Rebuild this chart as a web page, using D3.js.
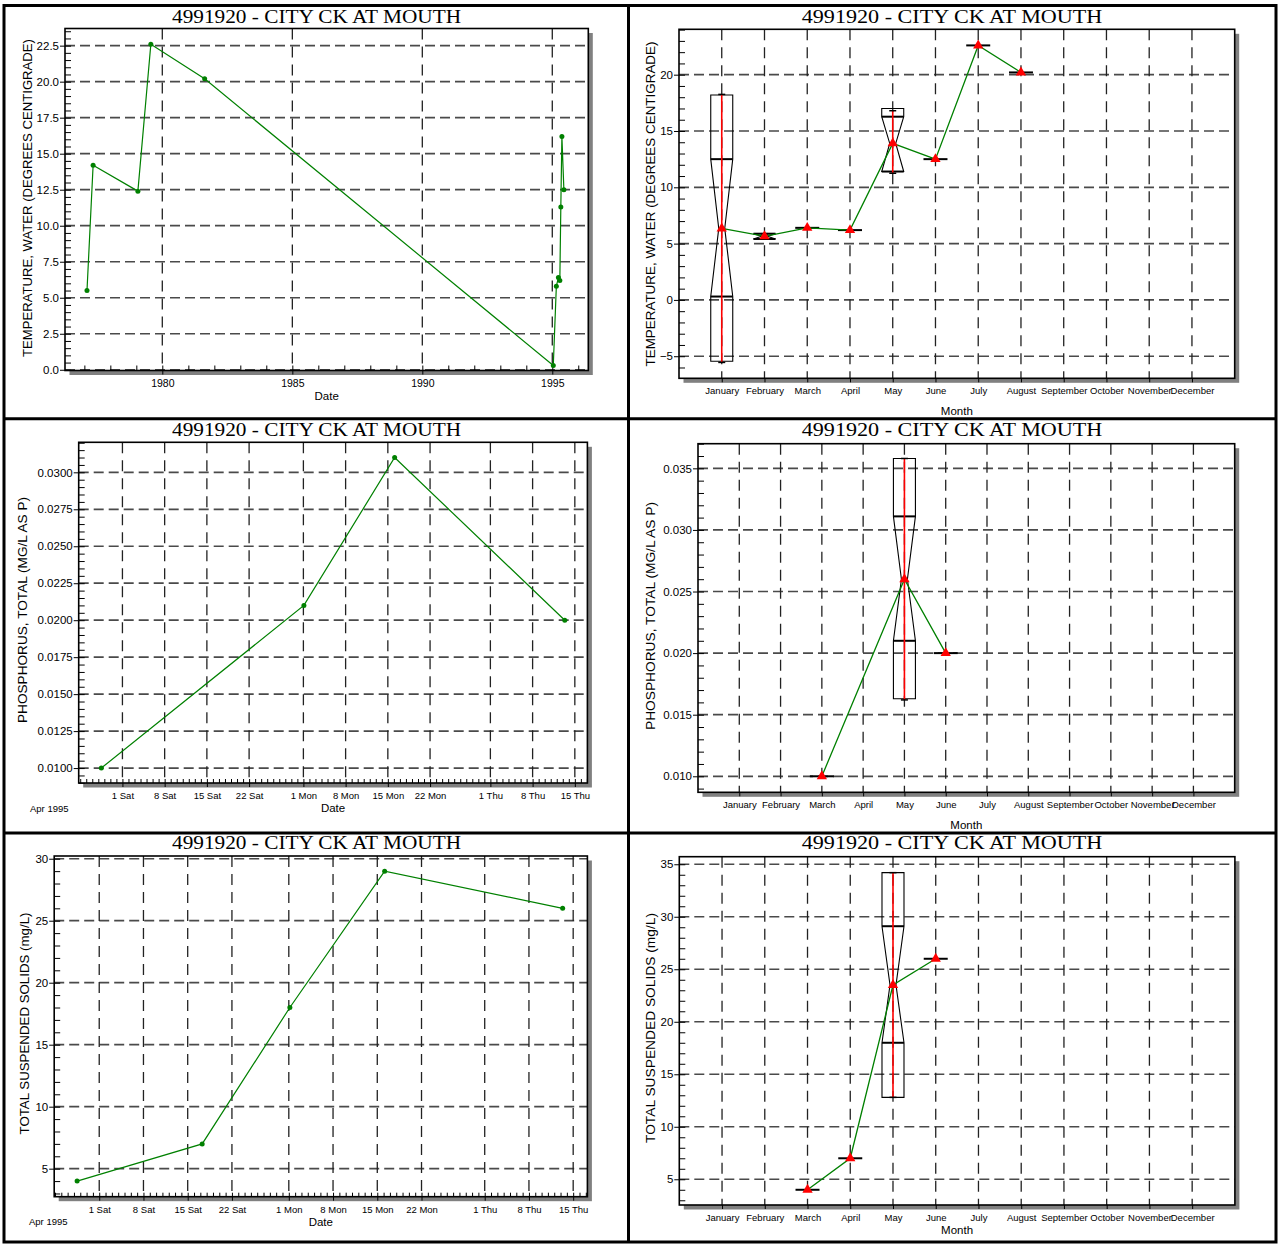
<!DOCTYPE html>
<html><head><meta charset="utf-8">
<script src="https://cdn.jsdelivr.net/npm/d3@7"></script>
<style>body{margin:0;background:#fff}svg{display:block}</style>
</head><body>
<svg id="c" width="1279" height="1245"></svg>
<script>
// ---------------- DATA ----------------
const stationTitle = "4991920 - CITY CK AT MOUTH";
const months = ["January","February","March","April","May","June","July","August","September","October","November","December"];

// Temperature time series
const tempDates = ["1977-02-07","1977-05-04","1979-01-23","1979-07-24","1981-08-18","1995-01-15","1995-02-27","1995-03-28","1995-04-17","1995-05-01","1995-05-16","1995-06-13"];
const tempValues = [5.5, 14.2, 12.4, 22.6, 20.2, 0.3, 5.8, 6.4, 6.2, 11.3, 16.2, 12.5];
const tempYTicks = [0, 2.5, 5, 7.5, 10, 12.5, 15, 17.5, 20, 22.5];
const tempYearTicks = [1980, 1985, 1990, 1995];

// Phosphorus time series
const phosDates = ["1995-03-28T12:00","1995-05-01T02:00","1995-05-16T03:00","1995-06-13T08:00"];
const phosValues = [0.010, 0.021, 0.031, 0.020];
const phosYTicks = [0.0100, 0.0125, 0.0150, 0.0175, 0.0200, 0.0225, 0.0250, 0.0275, 0.0300];

// TSS time series
const tssDates = ["1995-03-28T12:00","1995-04-17T07:00","1995-05-01T04:00","1995-05-16T04:00","1995-06-13T08:00"];
const tssValues = [4, 7, 18, 29, 26];
const tssYTicks = [5, 10, 15, 20, 25, 30];

// Date axis ticks (Apr-Jun 1995)
const dateTicks = ["1995-04-01","1995-04-08","1995-04-15","1995-04-22","1995-05-01","1995-05-08","1995-05-15","1995-05-22","1995-06-01","1995-06-08","1995-06-15"];

// Monthly summaries: temperature
const tempMonthMeans = [6.35, 5.65, 6.4, 6.2, 13.9, 12.5, 22.6, 20.2, null, null, null, null];
const tempBoxMonths = ["January", "February", "May"];
const tempBoxHigh = [18.2, 5.88, 17.0];
const tempBoxNotchHigh = [12.5, 5.88, 16.27];
const tempBoxMedian = [6.35, 5.65, 13.9];
const tempBoxNotchLow = [0.3, 5.41, 11.4];
const tempBoxLow = [-5.45, 5.41, 11.4];
const tempWhiskerTop = [18.25, 5.88, 16.8];
const tempWhiskerBottom = [-5.55, 5.41, 11.25];
const tempMonthYTicks = [-5, 0, 5, 10, 15, 20];

// Monthly summaries: phosphorus
const phosMonthMeans = [null, null, 0.010, null, 0.026, 0.020, null, null, null, null, null, null];
const phosBoxMonths = ["May"];
const phosBoxHigh = [0.0358];
const phosBoxNotchHigh = [0.0311];
const phosBoxMedian = [0.026];
const phosBoxNotchLow = [0.0210];
const phosBoxLow = [0.0163];
const phosWhiskerTop = [0.0358];
const phosWhiskerBottom = [0.0162];
const phosMonthYTicks = [0.010, 0.015, 0.020, 0.025, 0.030, 0.035];

// Monthly summaries: TSS
const tssMonthMeans = [null, null, 4, 7, 23.5, 26, null, null, null, null, null, null];
const tssBoxMonths = ["May"];
const tssBoxHigh = [34.2];
const tssBoxNotchHigh = [29.1];
const tssBoxMedian = [23.5];
const tssBoxNotchLow = [18.0];
const tssBoxLow = [12.8];
const tssWhiskerTop = [34.2];
const tssWhiskerBottom = [12.8];
const tssMonthYTicks = [5, 10, 15, 20, 25, 30, 35];

// ---------------- DRAWING ----------------
const svg = d3.select("#c");
const SANS = "'Liberation Sans', Arial, sans-serif";
const SERIF = "'Liberation Serif', 'Times New Roman', serif";
const pDay = d3.timeParse("%Y-%m-%d"), pDT = d3.timeParse("%Y-%m-%dT%H:%M");
const parse = s => s.length > 10 ? pDT(s) : pDay(s);

// outer table frame
svg.append("rect").attr("x", 4).attr("y", 5.5).attr("width", 1272).attr("height", 1236.5)
  .attr("fill", "none").attr("stroke", "#000").attr("stroke-width", 3);
svg.append("line").attr("x1", 628.5).attr("x2", 628.5).attr("y1", 5.5).attr("y2", 1242).attr("stroke", "#000").attr("stroke-width", 3);
[418.7, 833].forEach(yy => svg.append("line").attr("x1", 4).attr("x2", 1276).attr("y1", yy).attr("y2", yy).attr("stroke", "#000").attr("stroke-width", 3));

function title(x0, len, base) {
  svg.append("text").attr("x", x0).attr("y", base).attr("font-family", SERIF).attr("font-size", 18.5)
    .attr("textLength", len).attr("lengthAdjust", "spacingAndGlyphs").text(stationTitle);
}
function yLabel(xb, cy, len, txt) {
  svg.append("text").attr("transform", `translate(${xb},${cy + len / 2}) rotate(-90)`)
    .attr("font-family", SANS).attr("font-size", 12).attr("textLength", len)
    .attr("lengthAdjust", "spacingAndGlyphs").text(txt);
}
function txt(x, y, s, size, anchor) {
  svg.append("text").attr("x", x).attr("y", y).attr("font-family", SANS).attr("font-size", size)
    .attr("text-anchor", anchor || "start").text(s);
}
const clean = g => g.select(".domain").remove();
const styleTxt = (size) => g => g.selectAll("text").attr("font-family", SANS).attr("font-size", size).attr("fill", "#000");

function frameBase(b) {
  const g = svg.append("g");
  g.append("rect").attr("x", b.L + 4.5).attr("y", b.T + 4.5).attr("width", b.R - b.L).attr("height", b.B - b.T).attr("fill", "#808080");
  g.append("rect").attr("x", b.L).attr("y", b.T).attr("width", b.R - b.L).attr("height", b.B - b.T).attr("fill", "#fff");
  return g;
}
function grids(g, b, xs, ys) {
  g.append("g").selectAll("line").data(ys).join("line")
    .attr("x1", b.L).attr("x2", b.R).attr("y1", d => d).attr("y2", d => d)
    .attr("stroke", "#4a4a4a").attr("stroke-width", 1.7).attr("stroke-dasharray", "10,5");
  g.append("g").selectAll("line").data(xs).join("line")
    .attr("y1", b.T).attr("y2", b.B).attr("x1", d => d).attr("x2", d => d)
    .attr("stroke", "#222").attr("stroke-width", 1.3).attr("stroke-dasharray", "11,7");
}
function yAxes(g, b, y, ticks, minorStep, fmt) {
  const d = y.domain();
  const minor = d3.range(Math.ceil(d[0] / minorStep - 1e-9), Math.floor(d[1] / minorStep + 1e-9) + 1).map(k => k * minorStep);
  g.append("g").attr("transform", `translate(${b.L},0)`)
    .call(d3.axisLeft(y).tickValues(minor).tickSize(-6).tickFormat("")).call(clean)
    .selectAll("line").attr("stroke", "#000");
  g.append("g").attr("transform", `translate(${b.L},0)`)
    .call(d3.axisLeft(y).tickValues(ticks).tickSize(5).tickPadding(1).tickFormat(fmt))
    .call(clean).call(styleTxt(11.5));
}
function frame(g, b) {
  g.append("rect").attr("x", b.L).attr("y", b.T).attr("width", b.R - b.L).attr("height", b.B - b.T)
    .attr("fill", "none").attr("stroke", "#000").attr("stroke-width", 1.6);
}

// ---- time-series panel ----
function timePanel(o) {
  const b = o.box;
  const g = frameBase(b);
  const x = d3.scaleTime().domain(o.xDomain).range([b.L, b.R]);
  const y = d3.scaleLinear().domain(o.yDomain).range([b.B, b.T]);
  grids(g, b, o.xTicks.map(x), o.yTicks.map(y));
  yAxes(g, b, y, o.yTicks, o.yMinor, o.yFormat);
  g.append("g").attr("transform", `translate(0,${b.B})`)
    .call(d3.axisBottom(x).tickValues(o.xMinor).tickSize(-o.minorLen).tickFormat("")).call(clean);
  g.append("g").attr("transform", `translate(0,${b.B})`)
    .call(d3.axisBottom(x).tickValues(o.xTicks).tickSize(4).tickFormat(o.xFormat))
    .call(clean).call(styleTxt(o.xFont))
    .call(gg => gg.selectAll("text").attr("y", 16).attr("dy", null));
  frame(g, b);
  const pts = o.dates.map((d, i) => [x(parse(d)), y(o.values[i])]);
  g.append("path").attr("d", d3.line()(pts)).attr("fill", "none").attr("stroke", "#008000").attr("stroke-width", 1.2);
  g.append("g").selectAll("circle").data(pts).join("circle")
    .attr("cx", d => d[0]).attr("cy", d => d[1]).attr("r", 2.5).attr("fill", "#008000");
}

// ---- monthly box panel ----
function monthPanel(o) {
  const b = o.box;
  const g = frameBase(b);
  const x = d3.scaleLinear().domain([0, 13]).range([b.L, b.R]);
  const y = d3.scaleLinear().domain(o.yDomain).range([b.B, b.T]);
  const mIdx = d3.range(1, 13);
  grids(g, b, mIdx.map(x), o.yTicks.map(y));
  yAxes(g, b, y, o.yTicks, o.yMinor, o.yFormat);
  g.append("g").attr("transform", `translate(0,${b.B})`)
    .call(d3.axisBottom(x).tickValues(mIdx).tickSize(4).tickFormat(i => months[i - 1]))
    .call(clean).call(styleTxt(9.5))
    .call(gg => gg.selectAll("text").attr("y", 16).attr("dy", null));
  frame(g, b);
  const W = 11, N = 3;
  const bx = o.boxMonths.map(m => months.indexOf(m) + 1);
  // notched box outlines
  bx.forEach((mi, i) => {
    const cx = x(mi), hi = y(o.high[i]), hn = y(o.notchHigh[i]), md = y(o.median[i]), ln = y(o.notchLow[i]), lo = y(o.low[i]);
    const poly = [[cx - W, hi], [cx + W, hi], [cx + W, hn], [cx + N, md], [cx + W, ln], [cx + W, lo],
                  [cx - W, lo], [cx - W, ln], [cx - N, md], [cx - W, hn]];
    g.append("path").attr("d", d3.line()(poly) + "Z").attr("fill", "none").attr("stroke", "#000").attr("stroke-width", 1.1);
    [hn, ln].forEach(yy => g.append("line").attr("x1", cx - W).attr("x2", cx + W).attr("y1", yy).attr("y2", yy)
      .attr("stroke", "#000").attr("stroke-width", 2));
    g.append("line").attr("x1", cx).attr("x2", cx).attr("y1", y(o.wTop[i])).attr("y2", y(o.wBot[i]))
      .attr("stroke", "#ff0000").attr("stroke-width", 1.6);
    [o.wTop[i], o.wBot[i]].forEach(v => g.append("line").attr("x1", cx - 3.5).attr("x2", cx + 3.5)
      .attr("y1", y(v)).attr("y2", y(v)).attr("stroke", "#000").attr("stroke-width", 1.5));
  });
  // single-sample months: horizontal bars
  o.means.forEach((v, i) => {
    if (v === null || bx.includes(i + 1)) return;
    g.append("line").attr("x1", x(i + 1) - 12).attr("x2", x(i + 1) + 12).attr("y1", y(v)).attr("y2", y(v))
      .attr("stroke", "#000").attr("stroke-width", 2);
  });
  const pts = o.means.map((v, i) => v === null ? null : [x(i + 1), y(v)]).filter(p => p);
  g.append("path").attr("d", d3.line()(pts)).attr("fill", "none").attr("stroke", "#008000").attr("stroke-width", 1.3);
  g.append("g").selectAll("path").data(pts).join("path")
    .attr("transform", d => `translate(${d[0]},${d[1]})`)
    .attr("d", d3.symbol(d3.symbolTriangle, 46)).attr("fill", "#ff0000");
}

const fmtWeek = d3.timeFormat("%-d %a");
const yr = d3.timeFormat("%Y");

// Panel 1: temperature time series
{
  const b = { L: 65, T: 28.5, R: 588.3, B: 370.5 };
  const xDomain = [new Date(1976, 3, 4), new Date(1996, 4, 21)];
  timePanel({
    box: b, xDomain, yDomain: [-0.05, 23.69],
    dates: tempDates, values: tempValues,
    yTicks: tempYTicks, yMinor: 0.5, yFormat: d3.format(".1f"),
    xTicks: tempYearTicks.map(v => new Date(v, 0, 1)), xMinor: d3.timeYear.range(xDomain[0], xDomain[1]),
    xFormat: yr, xFont: 10.5, minorLen: 5
  });
  title(172, 289, 22.5);
  yLabel(32, 198, 318, "TEMPERATURE, WATER (DEGREES CENTIGRADE)");
  txt((b.L + b.R) / 2, 400, "Date", 11.5, "middle");
}
// Panel 3: phosphorus time series
{
  const b = { L: 78.7, T: 442.3, R: 587.4, B: 783 };
  const xDomain = [new Date(1995, 2, 24, 18), new Date(1995, 5, 17, 2)];
  timePanel({
    box: b, xDomain, yDomain: [0.00899, 0.03203],
    dates: phosDates, values: phosValues,
    yTicks: phosYTicks, yMinor: 0.0005, yFormat: d3.format(".4f"),
    xTicks: dateTicks.map(parse), xMinor: d3.timeDay.range(xDomain[0], xDomain[1]),
    xFormat: fmtWeek, xFont: 9.5, minorLen: 4
  });
  title(172, 289, 435.7);
  yLabel(27, 610, 226, "PHOSPHORUS, TOTAL (MG/L AS P)");
  txt((b.L + b.R) / 2, 811.5, "Date", 11.5, "middle");
  txt(30, 811.5, "Apr 1995", 9.5);
}
// Panel 5: TSS time series
{
  const b = { L: 54.2, T: 856, R: 587.4, B: 1196.7 };
  const xDomain = [new Date(1995, 2, 24, 21), new Date(1995, 5, 17, 6)];
  timePanel({
    box: b, xDomain, yDomain: [2.74, 30.22],
    dates: tssDates, values: tssValues,
    yTicks: tssYTicks, yMinor: 1, yFormat: d3.format("d"),
    xTicks: dateTicks.map(parse), xMinor: d3.timeDay.range(xDomain[0], xDomain[1]),
    xFormat: fmtWeek, xFont: 9.5, minorLen: 4
  });
  title(172, 289, 849.3);
  yLabel(29, 1023.5, 222, "TOTAL SUSPENDED SOLIDS (mg/L)");
  txt((b.L + b.R) / 2, 1226, "Date", 11.5, "middle");
  txt(29, 1225, "Apr 1995", 9.5);
}
// Panel 2: temperature by month
{
  const b = { L: 679, T: 29.3, R: 1234.7, B: 378.3 };
  monthPanel({
    box: b, yDomain: [-6.96, 24.03], yTicks: tempMonthYTicks, yMinor: 1, yFormat: d3.format("d"),
    means: tempMonthMeans, boxMonths: tempBoxMonths, high: tempBoxHigh, notchHigh: tempBoxNotchHigh,
    median: tempBoxMedian, notchLow: tempBoxNotchLow, low: tempBoxLow, wTop: tempWhiskerTop, wBot: tempWhiskerBottom
  });
  title(801.7, 300.6, 22.5);
  yLabel(655, 204, 325, "TEMPERATURE, WATER (DEGREES CENTIGRADE)");
  txt((b.L + b.R) / 2, 415, "Month", 11.5, "middle");
}
// Panel 4: phosphorus by month
{
  const b = { L: 698, T: 443.7, R: 1234.7, B: 792.3 };
  monthPanel({
    box: b, yDomain: [0.0087, 0.037], yTicks: phosMonthYTicks, yMinor: 0.001, yFormat: d3.format(".3f"),
    means: phosMonthMeans, boxMonths: phosBoxMonths, high: phosBoxHigh, notchHigh: phosBoxNotchHigh,
    median: phosBoxMedian, notchLow: phosBoxNotchLow, low: phosBoxLow, wTop: phosWhiskerTop, wBot: phosWhiskerBottom
  });
  title(801.7, 300.6, 435.7);
  yLabel(655, 616, 228, "PHOSPHORUS, TOTAL (MG/L AS P)");
  txt((b.L + b.R) / 2, 828.5, "Month", 11.5, "middle");
}
// Panel 6: TSS by month
{
  const b = { L: 679.3, T: 856.7, R: 1234.9, B: 1205 };
  monthPanel({
    box: b, yDomain: [2.55, 35.72], yTicks: tssMonthYTicks, yMinor: 1, yFormat: d3.format("d"),
    means: tssMonthMeans, boxMonths: tssBoxMonths, high: tssBoxHigh, notchHigh: tssBoxNotchHigh,
    median: tssBoxMedian, notchLow: tssBoxNotchLow, low: tssBoxLow, wTop: tssWhiskerTop, wBot: tssWhiskerBottom
  });
  title(801.7, 300.6, 849.3);
  yLabel(655, 1028, 230, "TOTAL SUSPENDED SOLIDS (mg/L)");
  txt((b.L + b.R) / 2, 1234, "Month", 11.5, "middle");
}
</script>
</body></html>
